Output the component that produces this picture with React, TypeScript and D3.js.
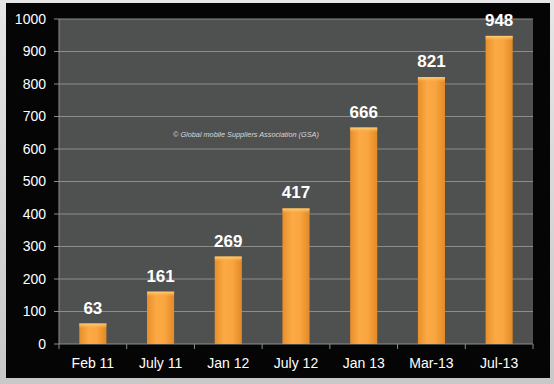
import React from "react";
import * as d3 from "d3";

const categories = ["Feb 11", "July 11", "Jan 12", "July 12", "Jan 13", "Mar-13", "Jul-13"];
const values = [63, 161, 269, 417, 666, 821, 948];
const yTicks = [0, 100, 200, 300, 400, 500, 600, 700, 800, 900, 1000];
const note = "© Global mobile Suppliers Association (GSA)";

const W = 554, H = 384;
const m = { left: 59, right: 21, top: 19, bottom: 40 };

export default function App() {
  const x = d3.scaleBand().domain(categories).range([m.left, W - m.right]).paddingInner(0.6).paddingOuter(0.3);
  const step = (W - m.right - m.left) / categories.length;
  const y = d3.scaleLinear().domain([0, 1000]).range([H - m.bottom, m.top]);
  const font = "Arial, 'Liberation Sans', sans-serif";
  return (
    <svg width={W} height={H} style={{ position: "absolute", left: 0, top: 0 }}>
      <defs>
        <linearGradient id="outer" x1="0" y1="0" x2="0" y2="1">
          <stop offset="0" stopColor="#e6e6e6" />
          <stop offset="1" stopColor="#c8c8c8" />
        </linearGradient>
        <linearGradient id="bar" x1="0" y1="0" x2="1" y2="0">
          <stop offset="0" stopColor="#e88f2a" />
          <stop offset="0.35" stopColor="#fbaa45" />
          <stop offset="0.65" stopColor="#f9a540" />
          <stop offset="1" stopColor="#e38a26" />
        </linearGradient>
        <linearGradient id="cap" x1="0" y1="0" x2="0" y2="1">
          <stop offset="0" stopColor="#ffd27a" />
          <stop offset="1" stopColor="#fbaa45" stopOpacity="0" />
        </linearGradient>
      </defs>
      <rect x={0} y={0} width={W} height={H} fill="url(#outer)" />
      <rect x={6} y={3} width={544} height={375} fill="#050505" />
      <rect x={m.left} y={m.top} width={W - m.right - m.left} height={H - m.bottom - m.top} fill="#4f5050" />
      {yTicks.map((t) => (
        <g key={t}>
          {t > 0 && <line x1={m.left} x2={W - m.right} y1={y(t)} y2={y(t)} stroke="#8c8c8c" strokeWidth={1.2} />}
          <line x1={m.left - 5} x2={m.left} y1={y(t)} y2={y(t)} stroke="#8c8c8c" strokeWidth={1} />
          <text x={46} y={y(t)} dy="0.35em" textAnchor="end" fill="#ffffff" fontFamily={font} fontSize={14}>{t}</text>
        </g>
      ))}
      <line x1={m.left} x2={m.left} y1={m.top} y2={H - m.bottom} stroke="#8c8c8c" strokeWidth={1} />
      <line x1={m.left} x2={W - m.right} y1={y(0)} y2={y(0)} stroke="#8c8c8c" strokeWidth={1.2} />
      {categories.map((c, i) => (
        <line key={"t" + c} x1={m.left + step * (i + 1)} x2={m.left + step * (i + 1)} y1={y(0)} y2={y(0) + 5} stroke="#8c8c8c" />
      ))}
      <line x1={m.left} x2={m.left} y1={y(0)} y2={y(0) + 5} stroke="#8c8c8c" />
      <text x={173} y={137} fill="#d8d8d8" fontFamily={font} fontSize={7.3} fontStyle="italic">{note}</text>
      {categories.map((c, i) => {
        const bx = x(c)!;
        const bw = x.bandwidth();
        const by = y(values[i]);
        return (
          <g key={c}>
            <rect x={bx} y={by} width={bw} height={y(0) - by} fill="url(#bar)" />
            <rect x={bx} y={by} width={bw} height={5} fill="url(#cap)" />
            <text x={bx + bw / 2} y={by - 10} textAnchor="middle" fill="#ffffff" fontFamily={font} fontWeight="bold" fontSize={17}>{values[i]}</text>
            <text x={bx + bw / 2} y={368} textAnchor="middle" fill="#ffffff" fontFamily={font} fontSize={14}>{c}</text>
          </g>
        );
      })}
    </svg>
  );
}
